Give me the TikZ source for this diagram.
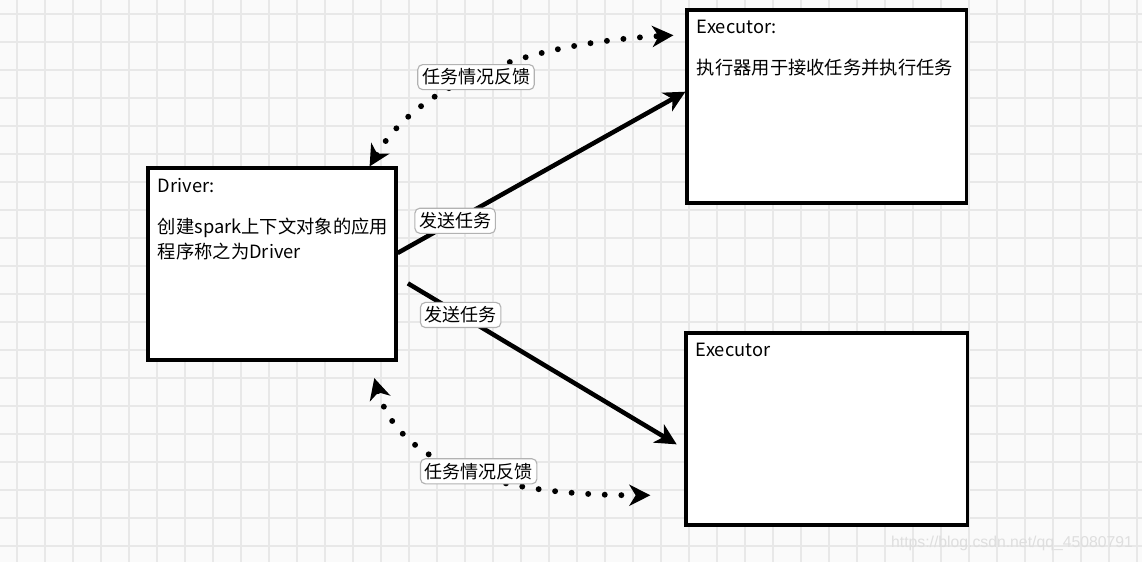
\documentclass[tikz,border=0pt]{standalone}
\usepackage{fontspec}
\newfontfamily\cjk{Noto Sans CJK SC}
\newfontfamily\wmfont{Liberation Sans}
\usetikzlibrary{arrows.meta}
\tikzset{
  gridline/.style={draw=black!9, line width=1.4pt},
  box/.style={draw, line width=2.2pt, fill=white, inner sep=0.25cm, font=\cjk\fontsize{13}{17.5}\selectfont},
  send/.style={line width=3.2pt, -{Stealth[length=15pt,width=15pt,inset=4.5pt]}},
  feedback/.style={line width=4.2pt, line cap=round, dash pattern=on 0pt off 11.8pt,
    {Stealth[length=15pt,width=15pt,inset=4.5pt]}-{Stealth[length=15pt,width=15pt,inset=4.5pt]}},
  tag/.style={draw=black!30, solid, fill=white, rounded corners=3.5pt, line width=0.8pt, inner sep=3pt, font=\cjk\fontsize{12.8}{14}\selectfont},
}
\begin{document}
\begin{tikzpicture}[x=0.025cm, y=-0.025cm]
\useasboundingbox[fill=black!2] (0,0) rectangle (1142,562);
\foreach \gx in {17,45,...,1142} \draw[gridline] (\gx,0) -- (\gx,562);
\foreach \gy in {14,42,...,562} \draw[gridline] (0,\gy) -- (1142,\gy);

\node[box] (driver) at (272,264) {\parbox[c][4.3cm][t]{5.7cm}{Driver:\\[12pt]创建spark上下文对象的应用\\程序称之为Driver}};
\node[box] (execA) at (826.5,106.5) {\parbox[c][4.325cm][t]{6.475cm}{Executor:\\[12pt]执行器用于接收任务并执行任务}};
\node[box] (execB) at (826.5,429) {\parbox[c][4.3cm][t]{6.525cm}{Executor}};

\draw[send] (driver.5) -- node[tag, pos=0.2] (sendA) {发送任务} (execA.174);
\draw[send, shorten <=0.3cm, shorten >=0.225cm] (driver.-6) -- node[tag, pos=0.22] (sendB) {发送任务} (execB.188);

\draw[feedback, shorten >=0.3cm] (driver.45) .. controls +(52,-88) and +(-147,8) .. node[tag, pos=0.45] (fbA) {任务情况反馈} (execA.153);
\draw[feedback, shorten <=0.43cm, shorten >=0.85cm] (driver.-45) .. controls +(27,95) and +(-206,0) .. node[tag, pos=0.56] (fbB) {任务情况反馈} (execB.205);

\node[font=\wmfont\fontsize{11.2}{13}\selectfont, text=black!13, inner sep=0] (mark) at (1012,543) {https://blog.csdn.net/qq\_45080791};
\end{tikzpicture}
\end{document}
